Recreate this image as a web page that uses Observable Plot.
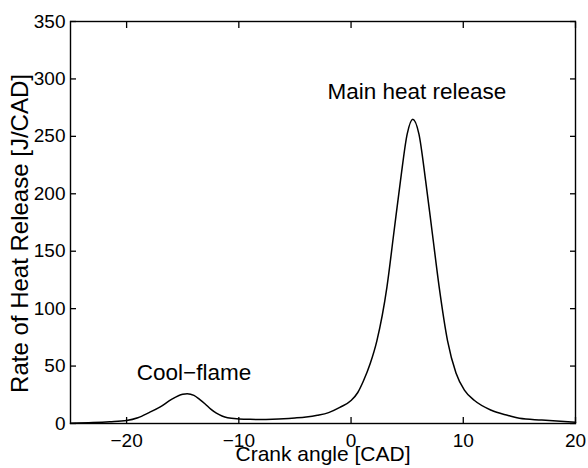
<!DOCTYPE html>
<html><head><meta charset="utf-8">
<script src="https://cdn.jsdelivr.net/npm/d3@7"></script>
<script src="https://cdn.jsdelivr.net/npm/@observablehq/plot@0.6"></script>
<style>html,body{margin:0;padding:0;background:#fff;}</style>
</head><body><div id="chart"></div>
<script>
const crankAngle = [-25, -23, -21.5, -20, -19, -18, -17, -16, -15, -14.6, -14, -13.5, -13, -12.5, -12, -11.5, -11, -10, -9, -8, -7, -6, -5, -4, -3, -2, -1, 0, 0.6, 1.1, 1.7, 2.3, 3.2, 3.8, 4.4, 5.0, 5.5, 6.05, 6.65, 7.25, 7.85, 8.6, 9.35, 10.1, 11, 12.5, 14, 15, 17, 20];
const heatRelease = [0.3, 0.8, 1.5, 2.6, 5, 9.5, 14.5, 21, 25.5, 26, 24.5, 21, 17, 12.5, 9, 6.5, 5, 4, 3.6, 3.5, 3.7, 4.1, 4.8, 5.7, 7.2, 9.5, 14, 20, 27, 37, 52, 72, 119, 165, 211, 252, 265, 252, 211, 165, 119, 72, 44, 29, 20, 11.5, 7, 4.5, 3, 1];
const xTicks = [-20, -10, 0, 10, 20];
const yTicks = [0, 50, 100, 150, 200, 250, 300, 350];
const xDomain = [-25, 20];
const yDomain = [0, 350];
const annotationText = ["Main heat release", "Cool\u2212flame"];
const annotationX = [-2.1, -19.1];
const annotationY = [289, 44];
const xLabel = "Crank angle [CAD]";
const yLabel = "Rate of Heat Release [J/CAD]";

const tickLen = 6;
const curve = crankAngle.map((x, i) => ({x, y: heatRelease[i]}));
const notes = annotationText.map((t, i) => ({t, x: annotationX[i], y: annotationY[i]}));
const font = "'Liberation Sans', Arial, Helvetica, sans-serif";
const blank = () => "";

const chart = Plot.plot({
  width: 588, height: 468,
  marginLeft: 70, marginRight: 13, marginTop: 21, marginBottom: 45,
  style: {fontFamily: font},
  x: {domain: xDomain},
  y: {domain: yDomain},
  marks: [
    // inward-pointing ticks on all four sides (negative tick size)
    Plot.axisX({anchor: "bottom", ticks: xTicks, tickSize: -tickLen, tickPadding: 10 + tickLen, fontSize: 19, stroke: "black", strokeWidth: 1.3, label: null}),
    Plot.axisX({anchor: "top", ticks: xTicks, tickSize: -tickLen, tickFormat: blank, stroke: "black", strokeWidth: 1.3, label: null}),
    Plot.axisY({anchor: "left", ticks: yTicks, tickSize: -tickLen, tickPadding: 5 + tickLen, fontSize: 19, stroke: "black", strokeWidth: 1.3, label: null}),
    Plot.axisY({anchor: "right", ticks: yTicks, tickSize: -tickLen, tickFormat: blank, stroke: "black", strokeWidth: 1.3, label: null}),
    Plot.line(curve, {x: "x", y: "y", stroke: "black", strokeWidth: 1.5, curve: "monotone-x"}),
    Plot.frame({stroke: "black", strokeWidth: 1.4}),
    Plot.text(notes, {x: "x", y: "y", text: "t", textAnchor: "start", lineAnchor: "middle", fontSize: 22.5, fill: "black"}),
    Plot.text([xLabel], {frameAnchor: "bottom", textAnchor: "middle", lineAnchor: "bottom", dy: 37, fontSize: 21, fill: "black"}),
    Plot.text([yLabel], {frameAnchor: "left", textAnchor: "middle", rotate: -90, lineAnchor: "bottom", dx: -43, dy: 11, fontSize: 24, fill: "black"})
  ]
});
document.getElementById("chart").appendChild(chart);
</script>
</body></html>
